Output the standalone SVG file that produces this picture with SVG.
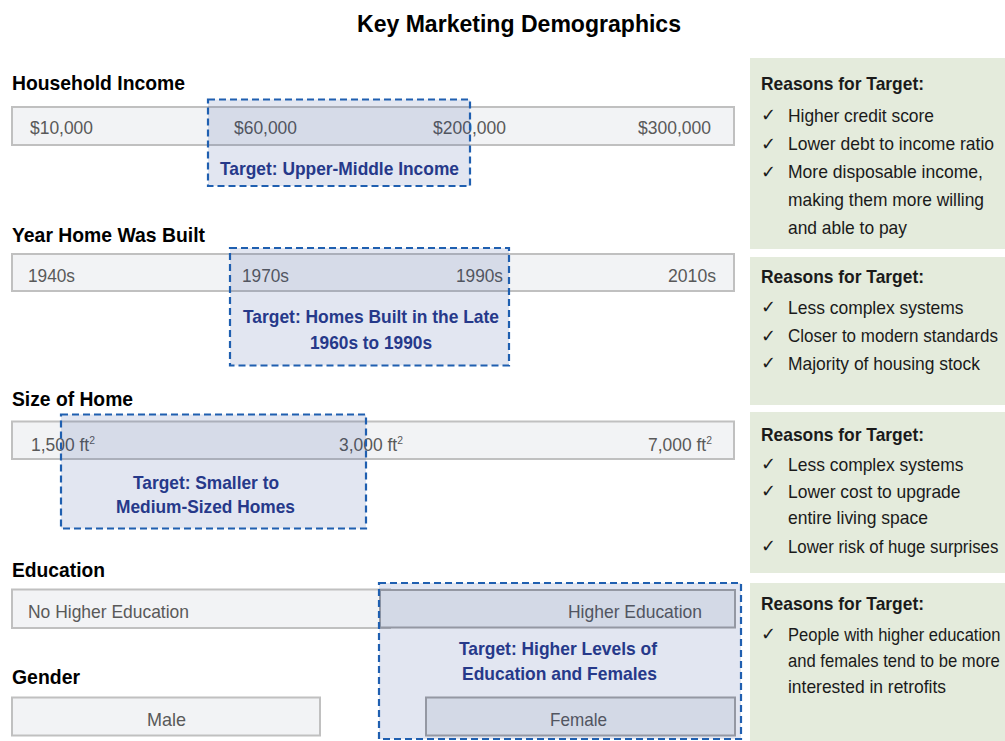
<svg xmlns="http://www.w3.org/2000/svg" width="1005" height="741" viewBox="0 0 1005 741">
<style>
.title{font-family:"Liberation Sans",Arial,sans-serif;font-weight:bold;font-size:24.5px;fill:#000}
.hdr{font-family:"Liberation Sans",Arial,sans-serif;font-weight:bold;font-size:20.5px;fill:#000}
.bar{fill:#f2f3f5;stroke:#c0c0c0;stroke-width:2}
.bar2{fill:#eef0f3;stroke:#a6a6a6;stroke-width:2}
.lbl{font-family:"Liberation Sans",Arial,sans-serif;font-size:18.5px;fill:#595959}
.tgt{fill:#1f3a8f;fill-opacity:0.13;stroke:#1f5fb0;stroke-width:2.2;stroke-dasharray:7 4}
.tl{font-family:"Liberation Sans",Arial,sans-serif;font-weight:bold;font-size:18.5px;fill:#26398a}
.pan{fill:#e4ebdc}
.ph{font-family:"Liberation Sans",Arial,sans-serif;font-weight:bold;font-size:18.5px;fill:#1a1a1a}
.it{font-family:"Liberation Sans",Arial,sans-serif;font-size:18.5px;fill:#1a1a1a}
.ck{font-family:"DejaVu Sans",sans-serif;font-size:18px;fill:#1a1a1a}
</style>
<rect width="1005" height="741" fill="#fff"/>
<text class="title" x="357" y="32" textLength="324" lengthAdjust="spacingAndGlyphs">Key Marketing Demographics</text>

<g id="household-income">
<text class="hdr" x="12" y="90" textLength="173" lengthAdjust="spacingAndGlyphs">Household Income</text>
<rect class="bar" x="12" y="107" width="722" height="38"/>
<text class="lbl" x="30" y="134" textLength="63" lengthAdjust="spacingAndGlyphs">$10,000</text>
<text class="lbl" x="234" y="134" textLength="63" lengthAdjust="spacingAndGlyphs">$60,000</text>
<text class="lbl" x="433" y="134" textLength="73" lengthAdjust="spacingAndGlyphs">$200,000</text>
<text class="lbl" x="638" y="134" textLength="73" lengthAdjust="spacingAndGlyphs">$300,000</text>
<rect class="tgt" x="208" y="99.5" width="262" height="86.5"/>
<text class="tl" x="220" y="175" textLength="239" lengthAdjust="spacingAndGlyphs">Target: Upper-Middle Income</text>
</g>

<g id="year-built">
<text class="hdr" x="12" y="241.5" textLength="193" lengthAdjust="spacingAndGlyphs">Year Home Was Built</text>
<rect class="bar" x="12" y="254" width="722" height="37"/>
<text class="lbl" x="28" y="281.5" textLength="47" lengthAdjust="spacingAndGlyphs">1940s</text>
<text class="lbl" x="242" y="281.5" textLength="47" lengthAdjust="spacingAndGlyphs">1970s</text>
<text class="lbl" x="456" y="281.5" textLength="47" lengthAdjust="spacingAndGlyphs">1990s</text>
<text class="lbl" x="668" y="281.5" textLength="48" lengthAdjust="spacingAndGlyphs">2010s</text>
<rect class="tgt" x="230" y="248" width="279" height="117.5"/>
<text class="tl" x="243" y="323" textLength="256" lengthAdjust="spacingAndGlyphs">Target: Homes Built in the Late</text>
<text class="tl" x="310" y="349" textLength="122" lengthAdjust="spacingAndGlyphs">1960s to 1990s</text>
</g>

<g id="size-of-home">
<text class="hdr" x="12" y="406" textLength="121" lengthAdjust="spacingAndGlyphs">Size of Home</text>
<rect class="bar" x="12" y="421.5" width="722" height="37.5"/>
<text class="lbl" transform="translate(31 451) scale(0.943 1)">1,500 ft<tspan font-size="11" dy="-7">2</tspan></text>
<text class="lbl" transform="translate(339 451) scale(0.943 1)">3,000 ft<tspan font-size="11" dy="-7">2</tspan></text>
<text class="lbl" transform="translate(648 451) scale(0.943 1)">7,000 ft<tspan font-size="11" dy="-7">2</tspan></text>
<rect class="tgt" x="61" y="414.5" width="305" height="114"/>
<text class="tl" x="133" y="489" textLength="146" lengthAdjust="spacingAndGlyphs">Target: Smaller to</text>
<text class="tl" x="116" y="513" textLength="179" lengthAdjust="spacingAndGlyphs">Medium-Sized Homes</text>
</g>

<g id="education-gender">
<text class="hdr" x="12" y="577" textLength="93" lengthAdjust="spacingAndGlyphs">Education</text>
<rect class="bar" x="12" y="589.5" width="378" height="38.5"/>
<text class="lbl" x="28" y="618" textLength="161" lengthAdjust="spacingAndGlyphs">No Higher Education</text>
<rect class="bar2" x="380" y="590" width="355" height="37.5"/>
<text class="lbl" x="568" y="618" textLength="134" lengthAdjust="spacingAndGlyphs">Higher Education</text>
<text class="hdr" x="12" y="684" textLength="68" lengthAdjust="spacingAndGlyphs">Gender</text>
<rect class="bar" x="12" y="697.5" width="308" height="38"/>
<text class="lbl" x="147" y="725.5" textLength="39" lengthAdjust="spacingAndGlyphs">Male</text>
<rect class="bar2" x="426" y="697.5" width="309" height="38"/>
<text class="lbl" x="550" y="725.5" textLength="57" lengthAdjust="spacingAndGlyphs">Female</text>
<rect class="tgt" x="379" y="583" width="362" height="156"/>
<text class="tl" x="459" y="655" textLength="198" lengthAdjust="spacingAndGlyphs">Target: Higher Levels of</text>
<text class="tl" x="462" y="680" textLength="195" lengthAdjust="spacingAndGlyphs">Education and Females</text>
</g>

<g id="reasons-income">
<rect class="pan" x="750" y="58" width="255" height="191"/>
<text class="ph" x="761" y="90" textLength="163" lengthAdjust="spacingAndGlyphs">Reasons for Target:</text>
<text class="ck" x="761" y="121">✓</text>
<text class="it" x="788" y="121.5" textLength="146" lengthAdjust="spacingAndGlyphs">Higher credit score</text>
<text class="ck" x="761" y="149.5">✓</text>
<text class="it" x="788" y="150" textLength="206" lengthAdjust="spacingAndGlyphs">Lower debt to income ratio</text>
<text class="ck" x="761" y="177.5">✓</text>
<text class="it" x="788" y="178" textLength="195" lengthAdjust="spacingAndGlyphs">More disposable income,</text>
<text class="it" x="788" y="205.5" textLength="196" lengthAdjust="spacingAndGlyphs">making them more willing</text>
<text class="it" x="788" y="233.5" textLength="119" lengthAdjust="spacingAndGlyphs">and able to pay</text>
</g>

<g id="reasons-year">
<rect class="pan" x="750" y="257" width="255" height="148"/>
<text class="ph" x="761" y="283" textLength="163" lengthAdjust="spacingAndGlyphs">Reasons for Target:</text>
<text class="ck" x="761" y="313">✓</text>
<text class="it" x="788" y="313.5" textLength="175.5" lengthAdjust="spacingAndGlyphs">Less complex systems</text>
<text class="ck" x="761" y="341.5">✓</text>
<text class="it" transform="translate(788 342) scale(0.92 1)">Closer to modern standards</text>
<text class="ck" x="761" y="369">✓</text>
<text class="it" x="788" y="369.5" textLength="192" lengthAdjust="spacingAndGlyphs">Majority of housing stock</text>
</g>

<g id="reasons-size">
<rect class="pan" x="750" y="412" width="255" height="161"/>
<text class="ph" x="761" y="441" textLength="163" lengthAdjust="spacingAndGlyphs">Reasons for Target:</text>
<text class="ck" x="761" y="470">✓</text>
<text class="it" x="788" y="470.5" textLength="175.5" lengthAdjust="spacingAndGlyphs">Less complex systems</text>
<text class="ck" x="761" y="497">✓</text>
<text class="it" x="788" y="497.5" textLength="172.5" lengthAdjust="spacingAndGlyphs">Lower cost to upgrade</text>
<text class="it" x="788" y="523.5" textLength="140" lengthAdjust="spacingAndGlyphs">entire living space</text>
<text class="ck" x="761" y="552">✓</text>
<text class="it" transform="translate(788 552.5) scale(0.91 1)">Lower risk of huge surprises</text>
</g>

<g id="reasons-education">
<rect class="pan" x="750" y="583" width="255" height="158"/>
<text class="ph" x="761" y="610" textLength="163" lengthAdjust="spacingAndGlyphs">Reasons for Target:</text>
<text class="ck" x="761" y="640">✓</text>
<text class="it" transform="translate(788 640.5) scale(0.895 1)">People with higher education</text>
<text class="it" transform="translate(788 666.5) scale(0.9 1)">and females tend to be more</text>
<text class="it" x="788" y="692.5" textLength="158" lengthAdjust="spacingAndGlyphs">interested in retrofits</text>
</g>

<g id="connectors"></g>
</svg>
